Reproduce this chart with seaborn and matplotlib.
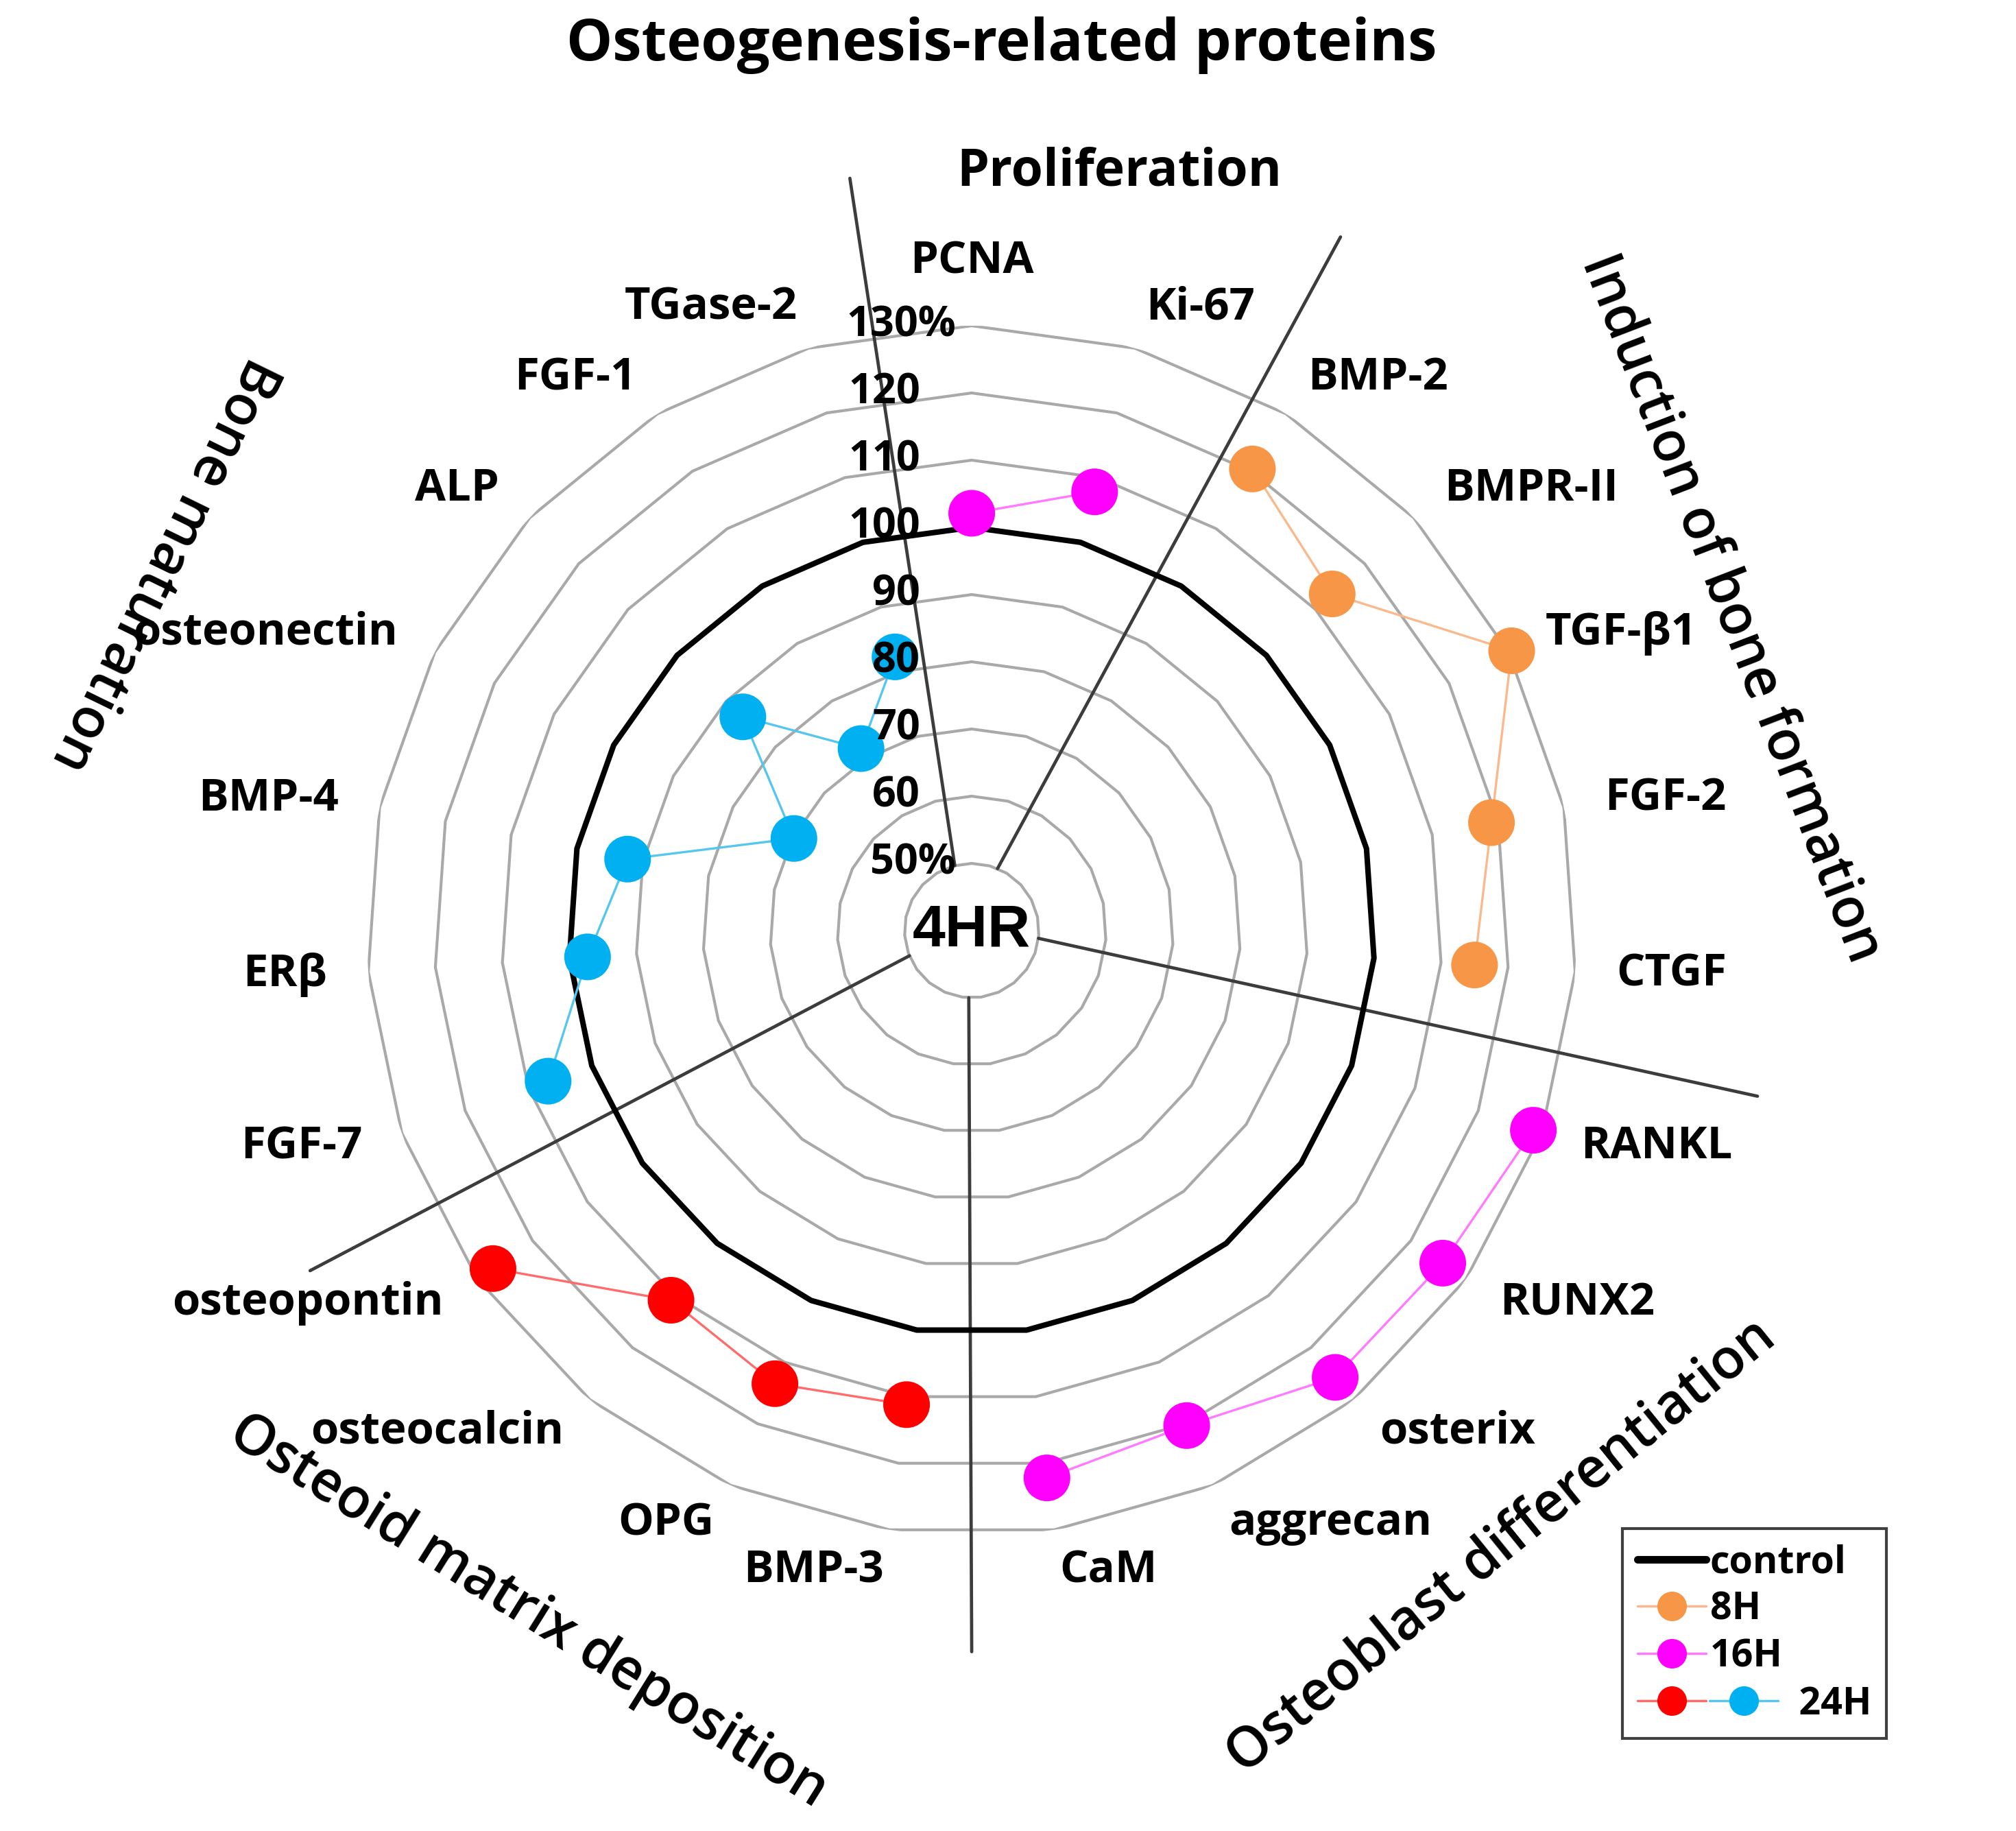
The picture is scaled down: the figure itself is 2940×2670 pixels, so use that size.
import numpy as np
import seaborn as sns
import matplotlib.pyplot as plt
from matplotlib.lines import Line2D
from matplotlib.legend_handler import HandlerBase
from matplotlib.transforms import ScaledTranslation

# proteins, clockwise from the top
categories = ["PCNA", "Ki-67", "BMP-2", "BMPR-II", "TGF-β1", "FGF-2", "CTGF",
              "RANKL", "RUNX2", "osterix", "aggrecan", "CaM", "BMP-3", "OPG",
              "osteocalcin", "osteopontin", "FGF-7", "ERβ", "BMP-4", "osteonectin",
              "ALP", "FGF-1", "TGase-2"]
control = [100] * len(categories)

# expression (% of control)
h8_genes = ["BMP-2", "BMPR-II", "TGF-β1", "FGF-2", "CTGF"]
h8_vals = [120.4, 113.4, 130.5, 119.0, 115.0]
h16a_genes = ["PCNA", "Ki-67"]
h16a_vals = [102.1, 107.8]
h16b_genes = ["RANKL", "RUNX2", "osterix", "aggrecan", "CaM"]
h16b_vals = [128.7, 125.8, 125.7, 120.3, 122.2]
h24r_genes = ["BMP-3", "OPG", "osteocalcin", "osteopontin"]
h24r_vals = [111.2, 113.5, 110.9, 127.2]
h24b_genes = ["FGF-7", "ERβ", "BMP-4", "osteonectin", "ALP", "FGF-1", "TGase-2"]
h24b_vals = [106.9, 97.3, 92.3, 69.8, 86.6, 71.7, 82.3]

ring_values = [50, 60, 70, 80, 90, 100, 110, 120, 130]
ring_labels = ["50%", "60", "70", "80", "90", "100", "110", "120", "130%"]

group_names = ["Proliferation", "Induction of bone formation", "Osteoblast differentiation",
               "Osteoid matrix deposition", "Bone maturation"]
group_angle = [11, 67, 139.3, 213.1, 294.4]
group_radius = [155, 162.7, 161, 161, 172]
group_rot = [0, -69, 39, -32, -116]

# sector dividers (inner angle, outer angle, outer reach)
div_in = [-14.6, 22.6, 96.6, 182.5, 248.0]
div_out = [-9.2, 28.0, 101.9, 180.0, 242.8]
div_reach = [153.4, 156.9, 159.5, 147.3, 150.7]

c_orange, l_orange = "#f79646", "#fab98c"
c_mag, l_mag = "#ff00ff", "#ff7aff"
c_red, l_red = "#ff0000", "#ff6a6a"
c_blue, l_blue = "#00b0f0", "#55c6f0"

sns.set_theme(style="white")
plt.rcParams["font.family"] = ["Open Sans", "DejaVu Sans"]
plt.rcParams["text.color"] = "black"

fig = plt.figure(figsize=(29.4, 26.7), dpi=100)
ax = fig.add_axes([0.182, 0.1614, 0.6, 0.6607], projection="polar")
ax.set_theta_zero_location("N")
ax.set_theta_direction(-1)
ax.set_ylim(40, 130)
ax.grid(False)
ax.spines["polar"].set_visible(False)

n = len(categories)
theta = np.arange(n) * 2 * np.pi / n
pos = dict(zip(categories, theta))
th_closed = np.append(theta, 2 * np.pi)

# polygon gridlines
for v in ring_values:
    ax.plot(th_closed, [v] * (n + 1), color="#a9a9a9", lw=3, zorder=1)

for a0, a1, r1 in zip(div_in, div_out, div_reach):
    ax.plot(np.deg2rad([a0, a1]), [50, r1], color="#3c3c3c", lw=3.4,
            clip_on=False, zorder=2)

sns.lineplot(x=th_closed, y=control + [control[0]], color="black", lw=5.8,
             sort=False, ax=ax, zorder=3)

series = [(h8_genes, h8_vals, c_orange, l_orange),
          (h16a_genes, h16a_vals, c_mag, l_mag),
          (h16b_genes, h16b_vals, c_mag, l_mag),
          (h24r_genes, h24r_vals, c_red, l_red),
          (h24b_genes, h24b_vals, c_blue, l_blue)]
for genes, vals, mc, lc in series:
    th = [pos[g] for g in genes]
    sns.lineplot(x=th, y=vals, color=lc, lw=2.4, sort=False, ax=ax, zorder=3.5)
    sns.scatterplot(x=th, y=vals, color=mc, s=2400, edgecolor="none", ax=ax,
                    zorder=4, clip_on=False)

ax.set_xlabel("")
ax.set_ylabel("")
ax.set_xticks([])
ax.set_yticks([])

# category labels
for ang, name in zip(theta, categories):
    deg = np.rad2deg(ang)
    if deg == 0:
        ha, va = "center", "bottom"
    elif deg < 180:
        ha, va = "left", "center"
    else:
        ha, va = "right", "center"
    ax.text(ang, 136.2, name, ha=ha, va=va, fontsize=47, fontweight="bold",
            color="black", clip_on=False, zorder=5)

# ring value labels
for v, lab in zip(ring_values, ring_labels):
    shift = -0.23 if lab.endswith("%") else -0.75
    ax.text(0, v, lab, ha="right", va="center", fontsize=44, fontweight="bold",
            color="black", zorder=5,
            transform=ax.transData + ScaledTranslation(shift, 0, fig.dpi_scale_trans))

ax.text(0, 40, "4HR", ha="center", va="center", fontsize=62, fontweight="bold",
        family="Liberation Sans", color="black", zorder=5)

for name, ang, rad, rot in zip(group_names, group_angle, group_radius, group_rot):
    bold = name == "Proliferation"
    ax.text(np.deg2rad(ang), rad, name, ha="center", va="center", rotation=rot,
            rotation_mode="anchor", fontsize=54 if bold else 58,
            fontweight="bold" if bold else "semibold", color="black",
            clip_on=False, zorder=5)

fig.text(1461 / 2940, 1 - 66 / 2670, "Osteogenesis-related proteins", ha="center",
         va="center", fontsize=61, fontweight="bold", color="black")


class HandlerTwoDots(HandlerBase):
    def create_artists(self, legend, orig_handle, xdescent, ydescent, width, height,
                       fontsize, trans):
        y = height / 2 - ydescent
        arts = []
        for i, (lc, mc) in enumerate([(l_red, c_red), (l_blue, c_blue)]):
            x0 = -xdescent + i * width * 1.05
            arts.append(Line2D([x0, x0 + width], [y, y], color=lc, lw=2.5,
                               transform=trans))
            arts.append(Line2D([x0 + width / 2], [y], marker="o", ms=30, color=mc,
                               ls="none", transform=trans))
        return arts


h_ctrl = Line2D([], [], color="black", lw=8)
h_8 = Line2D([], [], color=l_orange, lw=2.5, marker="o", ms=30,
             markerfacecolor=c_orange, markeredgecolor=c_orange)
h_16 = Line2D([], [], color=l_mag, lw=2.5, marker="o", ms=30,
              markerfacecolor=c_mag, markeredgecolor=c_mag)
h_24 = Line2D([], [])
leg = fig.legend([h_ctrl, h_8, h_16, h_24], ["control", "8H", "16H", "         24H"],
                 loc="lower left", bbox_to_anchor=(0.8048, 0.0506),
                 bbox_transform=fig.transFigure, borderaxespad=0,
                 handler_map={h_24: HandlerTwoDots()}, handlelength=1.8,
                 handletextpad=0.1, labelspacing=0.25, borderpad=0.4,
                 prop={"weight": "bold", "size": 40}, fancybox=False,
                 framealpha=1, edgecolor="#404040")
leg.get_frame().set_linewidth(3)

fig.savefig("out.png", dpi=100)
